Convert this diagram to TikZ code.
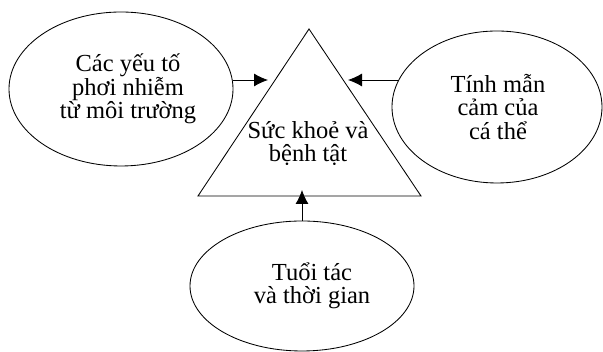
\documentclass[tikz,border=0pt]{standalone}
\usepackage{fontspec}
\setmainfont{Liberation Serif}
\usetikzlibrary{shapes.geometric,arrows.meta}
\begin{document}
\begin{tikzpicture}[x=1pt,y=1pt,
  every path/.style={line width=0.85pt},
  oval/.style={draw,ellipse,inner sep=0pt},
  caption/.style={align=center,font=\fontsize{24.5}{23.5}\selectfont,inner sep=0pt},
  feed/.style={draw,-{Latex[length=14pt,width=13pt]}}]
\useasboundingbox (0,0) rectangle (603,352);

% central triangle
\coordinate (apex) at (309,323);
\coordinate (bl) at (198,156);
\coordinate (br) at (421,156);
\draw (apex) -- (bl) -- (br) -- cycle;
\node[caption] (health) at (308,208.5) {Sức khoẻ và\\bệnh tật};

% surrounding factors
\node[oval,minimum width=224pt,minimum height=154pt] (env) at (121,263) {};
\node[caption] (envtxt) at (128,263) {Các yếu tố\\phơi nhiễm\\từ môi trường};

\node[oval,minimum width=210pt,minimum height=152pt] (host) at (497,245) {};
\node[caption] (hosttxt) at (498,245) {Tính mẫn\\cảm của\\cá thể};

\node[oval,minimum width=224pt,minimum height=130pt] (age) at (302,66) {};
\node[caption] (agetxt) at (312,66) {Tuổi tác\\và thời gian};

% arrow ends near the triangle
\coordinate (inL) at (268,272);
\coordinate (inR) at (348,272);
\coordinate (inB) at (302,162);

\draw[feed] (env.east |- inL) -- (inL);
\draw[feed] (398,272) -- (inR);
\draw[feed] (age.north) -- (inB);
\end{tikzpicture}
\end{document}
